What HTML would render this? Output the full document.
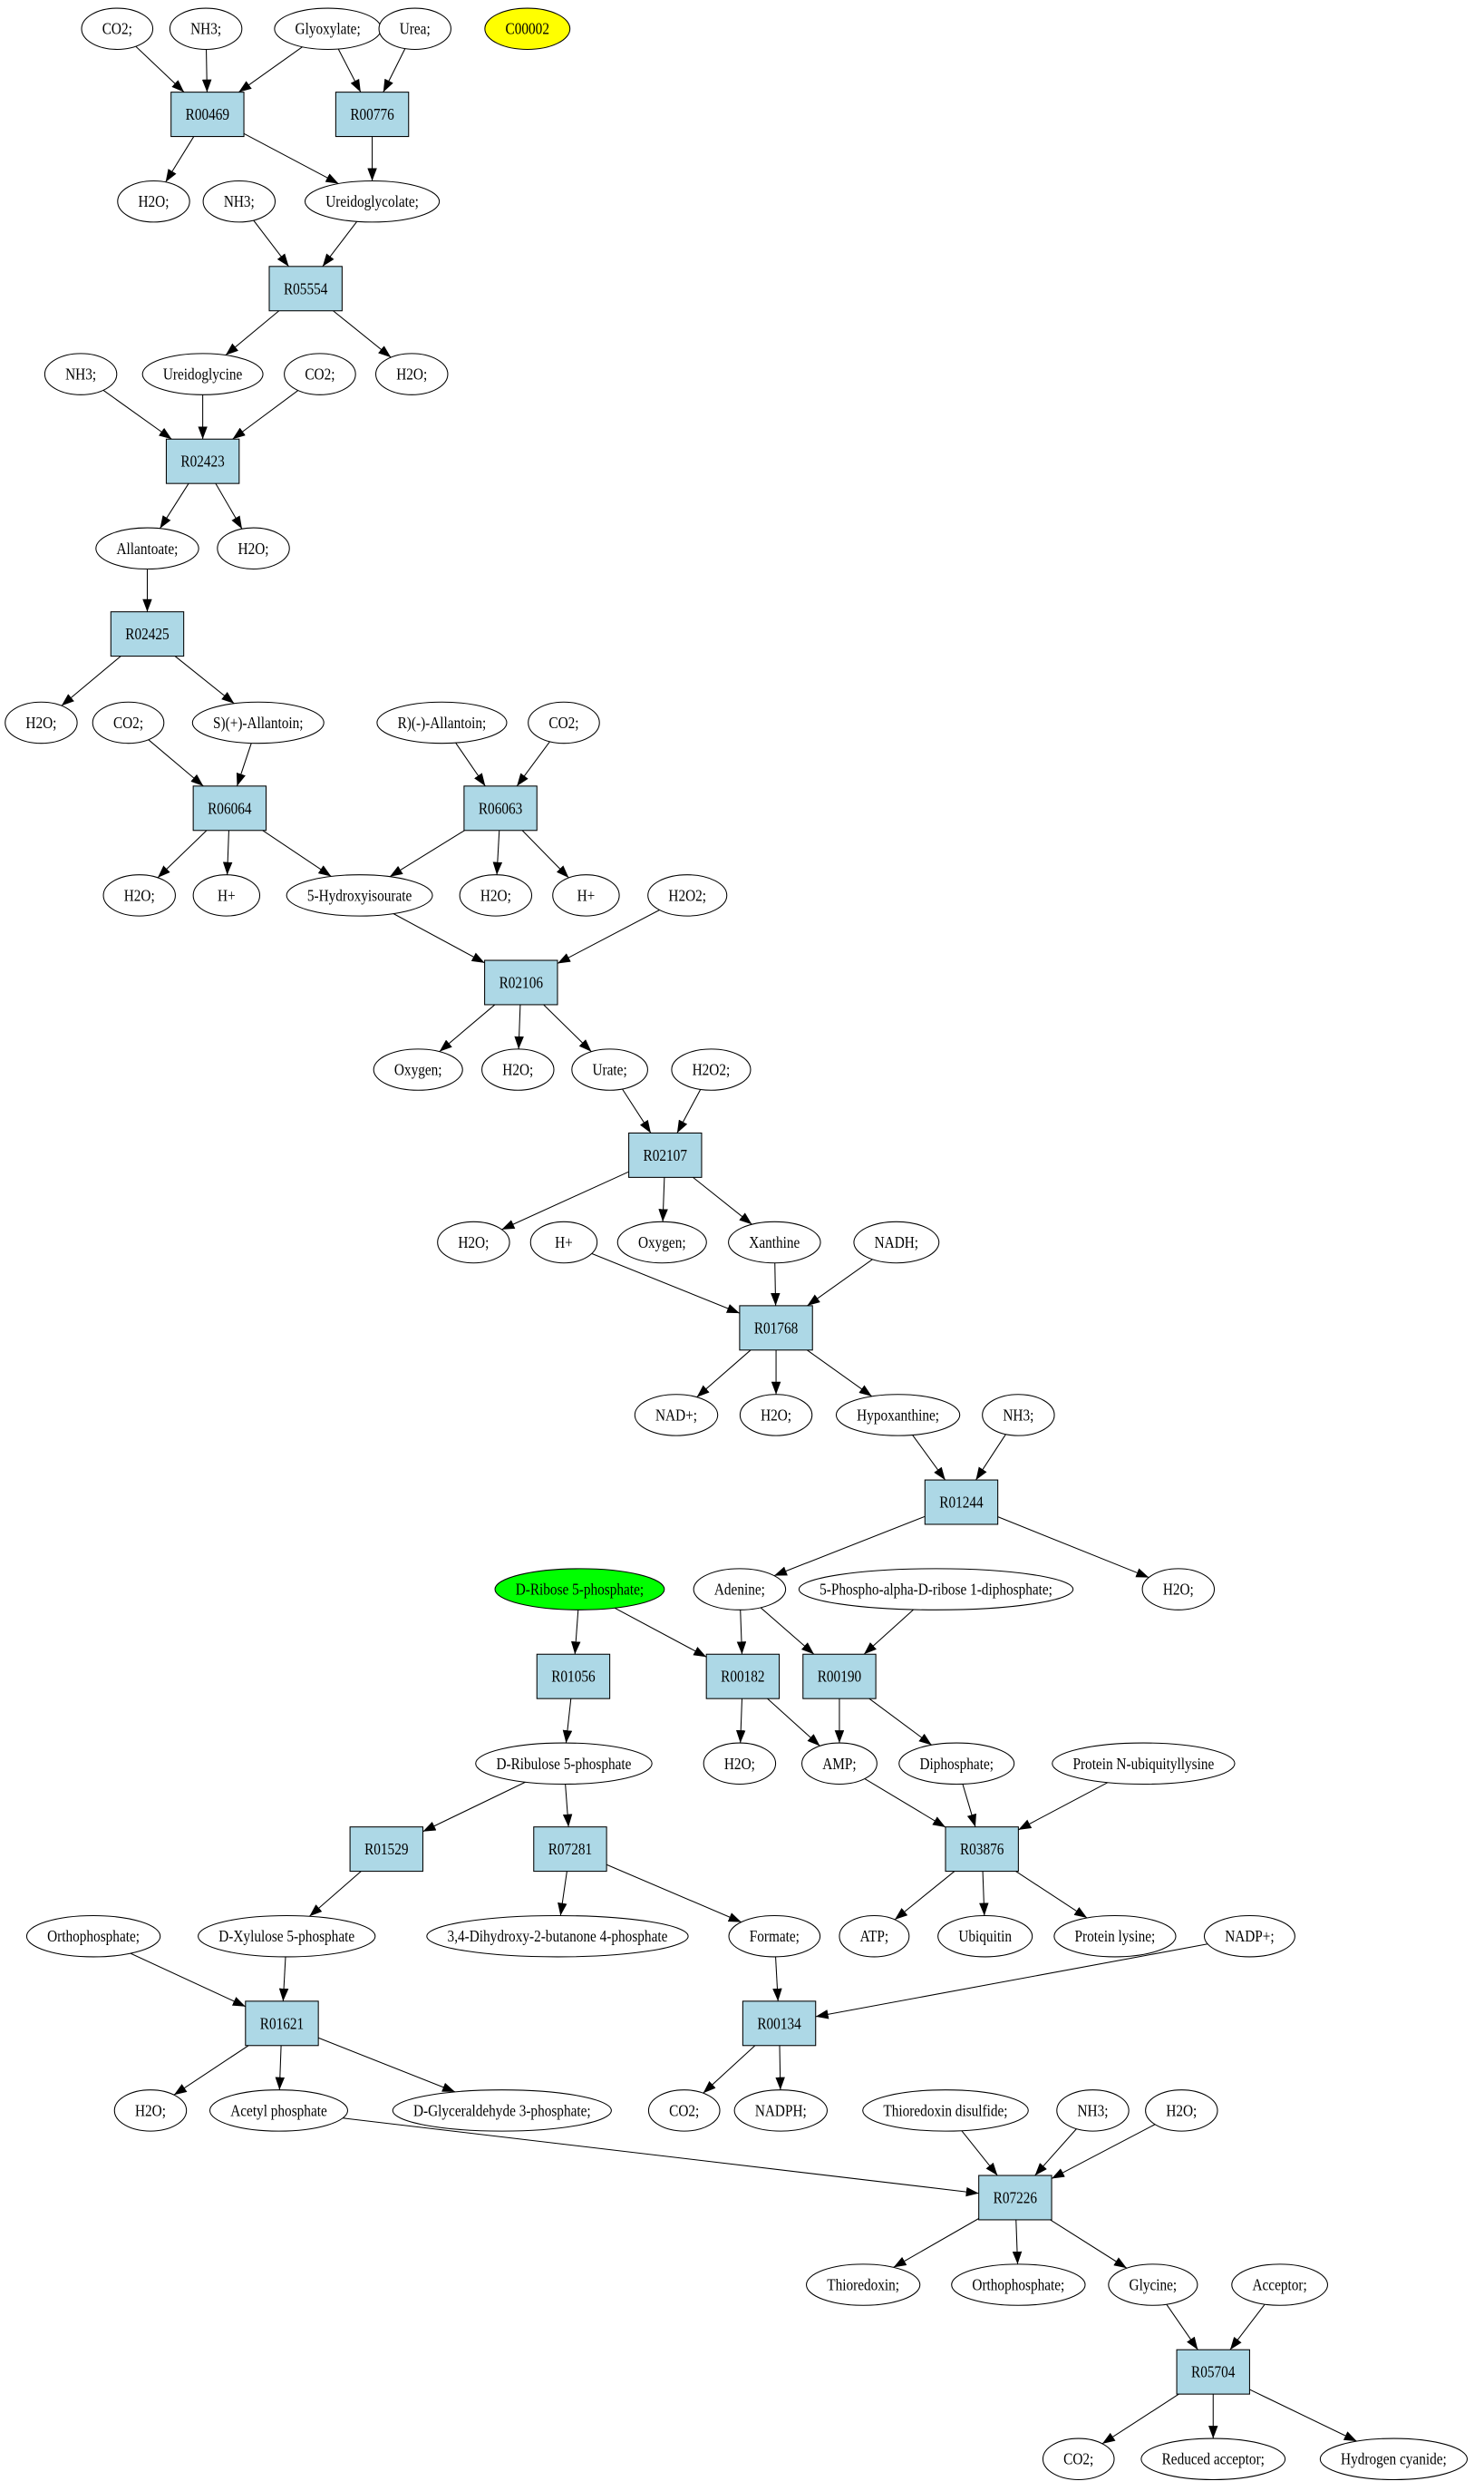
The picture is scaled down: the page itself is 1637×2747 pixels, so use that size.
<!DOCTYPE html>
<html><head><meta charset="utf-8"><style>
html,body{margin:0;padding:0;background:#fff}
svg{display:block}
text{font-family:"Liberation Serif",serif;font-size:10.3px;text-anchor:middle;dominant-baseline:central}
</style></head><body>
<svg id="g" width="1637" height="2747" viewBox="0 0 937 1572" xmlns="http://www.w3.org/2000/svg">
<defs><marker id="ah" markerWidth="8" markerHeight="6" refX="8" refY="3" orient="auto" markerUnits="userSpaceOnUse"><path d="M0,0 L8,3 L0,6 z" fill="#000"/></marker></defs>
<g id="edges"></g>
<g id="nodes" stroke="#000" stroke-width="0.6">
<g class="e" data-id="a1" data-x="74" data-y="18"><ellipse/><text>CO2;</text></g>
<g class="e" data-id="a2" data-x="130" data-y="18"><ellipse/><text>NH3;</text></g>
<g class="e" data-id="a3" data-x="207" data-y="18"><ellipse/><text>Glyoxylate;</text></g>
<g class="e" data-id="a4" data-x="262" data-y="18"><ellipse/><text>Urea;</text></g>
<g class="e" data-id="a5" data-x="333" data-y="18" data-fill="#ffff00"><ellipse/><text>C00002</text></g>
<g class="b" data-id="R00469" data-x="131" data-y="72"><rect/><text>R00469</text></g>
<g class="b" data-id="R00776" data-x="235" data-y="72"><rect/><text>R00776</text></g>
<g class="e" data-id="b1" data-x="97" data-y="127"><ellipse/><text>H2O;</text></g>
<g class="e" data-id="b2" data-x="151" data-y="127"><ellipse/><text>NH3;</text></g>
<g class="e" data-id="b3" data-x="235" data-y="127"><ellipse/><text>Ureidoglycolate;</text></g>
<g class="b" data-id="R05554" data-x="193" data-y="182"><rect/><text>R05554</text></g>
<g class="e" data-id="c1" data-x="51" data-y="236"><ellipse/><text>NH3;</text></g>
<g class="e" data-id="c2" data-x="128" data-y="236"><ellipse/><text>Ureidoglycine</text></g>
<g class="e" data-id="c3" data-x="202" data-y="236"><ellipse/><text>CO2;</text></g>
<g class="e" data-id="c4" data-x="260" data-y="236"><ellipse/><text>H2O;</text></g>
<g class="b" data-id="R02423" data-x="128" data-y="291"><rect/><text>R02423</text></g>
<g class="e" data-id="d1" data-x="93" data-y="346"><ellipse/><text>Allantoate;</text></g>
<g class="e" data-id="d2" data-x="160" data-y="346"><ellipse/><text>H2O;</text></g>
<g class="b" data-id="R02425" data-x="93" data-y="400"><rect/><text>R02425</text></g>
<g class="e" data-id="f1" data-x="26" data-y="456"><ellipse/><text>H2O;</text></g>
<g class="e" data-id="f2" data-x="81" data-y="456"><ellipse/><text>CO2;</text></g>
<g class="e" data-id="f3" data-x="163" data-y="456"><ellipse/><text>S)(+)-Allantoin;</text></g>
<g class="e" data-id="f4" data-x="279" data-y="456"><ellipse/><text>R)(-)-Allantoin;</text></g>
<g class="e" data-id="f5" data-x="356" data-y="456"><ellipse/><text>CO2;</text></g>
<g class="b" data-id="R06064" data-x="145" data-y="510"><rect/><text>R06064</text></g>
<g class="b" data-id="R06063" data-x="316" data-y="510"><rect/><text>R06063</text></g>
<g class="e" data-id="h1" data-x="88" data-y="565"><ellipse/><text>H2O;</text></g>
<g class="e" data-id="h2" data-x="143" data-y="565"><ellipse/><text>H+</text></g>
<g class="e" data-id="h3" data-x="227" data-y="565"><ellipse/><text>5-Hydroxyisourate</text></g>
<g class="e" data-id="h4" data-x="313" data-y="565"><ellipse/><text>H2O;</text></g>
<g class="e" data-id="h5" data-x="370" data-y="565"><ellipse/><text>H+</text></g>
<g class="e" data-id="h6" data-x="434" data-y="565"><ellipse/><text>H2O2;</text></g>
<g class="b" data-id="R02106" data-x="329" data-y="620"><rect/><text>R02106</text></g>
<g class="e" data-id="i1" data-x="264" data-y="675"><ellipse/><text>Oxygen;</text></g>
<g class="e" data-id="i2" data-x="327" data-y="675"><ellipse/><text>H2O;</text></g>
<g class="e" data-id="i3" data-x="385" data-y="675"><ellipse/><text>Urate;</text></g>
<g class="e" data-id="i4" data-x="449" data-y="675"><ellipse/><text>H2O2;</text></g>
<g class="b" data-id="R02107" data-x="420" data-y="729"><rect/><text>R02107</text></g>
<g class="e" data-id="j1" data-x="299" data-y="784"><ellipse/><text>H2O;</text></g>
<g class="e" data-id="j2" data-x="356" data-y="784"><ellipse/><text>H+</text></g>
<g class="e" data-id="j3" data-x="418" data-y="784"><ellipse/><text>Oxygen;</text></g>
<g class="e" data-id="j4" data-x="489" data-y="784"><ellipse/><text>Xanthine</text></g>
<g class="e" data-id="j5" data-x="566" data-y="784"><ellipse/><text>NADH;</text></g>
<g class="b" data-id="R01768" data-x="490" data-y="838"><rect/><text>R01768</text></g>
<g class="e" data-id="k1" data-x="427" data-y="893"><ellipse/><text>NAD+;</text></g>
<g class="e" data-id="k2" data-x="490" data-y="893"><ellipse/><text>H2O;</text></g>
<g class="e" data-id="k3" data-x="567" data-y="893"><ellipse/><text>Hypoxanthine;</text></g>
<g class="e" data-id="k4" data-x="643" data-y="893"><ellipse/><text>NH3;</text></g>
<g class="b" data-id="R01244" data-x="607" data-y="948"><rect/><text>R01244</text></g>
<g class="e" data-id="l1" data-x="366" data-y="1003" data-fill="#00ff00"><ellipse/><text>D-Ribose 5-phosphate;</text></g>
<g class="e" data-id="l2" data-x="467" data-y="1003"><ellipse/><text>Adenine;</text></g>
<g class="e" data-id="l3" data-x="591" data-y="1003"><ellipse/><text>5-Phospho-alpha-D-ribose 1-diphosphate;</text></g>
<g class="e" data-id="l4" data-x="744" data-y="1003"><ellipse/><text>H2O;</text></g>
<g class="b" data-id="R01056" data-x="362" data-y="1058"><rect/><text>R01056</text></g>
<g class="b" data-id="R00182" data-x="469" data-y="1058"><rect/><text>R00182</text></g>
<g class="b" data-id="R00190" data-x="530" data-y="1058"><rect/><text>R00190</text></g>
<g class="e" data-id="m1" data-x="356" data-y="1113"><ellipse/><text>D-Ribulose 5-phosphate</text></g>
<g class="e" data-id="m2" data-x="467" data-y="1113"><ellipse/><text>H2O;</text></g>
<g class="e" data-id="m3" data-x="530" data-y="1113"><ellipse/><text>AMP;</text></g>
<g class="e" data-id="m4" data-x="604" data-y="1113"><ellipse/><text>Diphosphate;</text></g>
<g class="e" data-id="m5" data-x="722" data-y="1113"><ellipse/><text>Protein N-ubiquityllysine</text></g>
<g class="b" data-id="R01529" data-x="244" data-y="1167"><rect/><text>R01529</text></g>
<g class="b" data-id="R07281" data-x="360" data-y="1167"><rect/><text>R07281</text></g>
<g class="b" data-id="R03876" data-x="620" data-y="1167"><rect/><text>R03876</text></g>
<g class="e" data-id="n1" data-x="59" data-y="1222"><ellipse/><text>Orthophosphate;</text></g>
<g class="e" data-id="n2" data-x="181" data-y="1222"><ellipse/><text>D-Xylulose 5-phosphate</text></g>
<g class="e" data-id="n3" data-x="352" data-y="1222"><ellipse/><text>3,4-Dihydroxy-2-butanone 4-phosphate</text></g>
<g class="e" data-id="n4" data-x="489" data-y="1222"><ellipse/><text>Formate;</text></g>
<g class="e" data-id="n5" data-x="552" data-y="1222"><ellipse/><text>ATP;</text></g>
<g class="e" data-id="n6" data-x="622" data-y="1222"><ellipse/><text>Ubiquitin</text></g>
<g class="e" data-id="n7" data-x="704" data-y="1222"><ellipse/><text>Protein lysine;</text></g>
<g class="e" data-id="n8" data-x="789" data-y="1222"><ellipse/><text>NADP+;</text></g>
<g class="b" data-id="R01621" data-x="178" data-y="1277"><rect/><text>R01621</text></g>
<g class="b" data-id="R00134" data-x="492" data-y="1277"><rect/><text>R00134</text></g>
<g class="e" data-id="o1" data-x="95" data-y="1332"><ellipse/><text>H2O;</text></g>
<g class="e" data-id="o2" data-x="176" data-y="1332"><ellipse/><text>Acetyl phosphate</text></g>
<g class="e" data-id="o3" data-x="317" data-y="1332"><ellipse/><text>D-Glyceraldehyde 3-phosphate;</text></g>
<g class="e" data-id="o4" data-x="432" data-y="1332"><ellipse/><text>CO2;</text></g>
<g class="e" data-id="o5" data-x="493" data-y="1332"><ellipse/><text>NADPH;</text></g>
<g class="e" data-id="o6" data-x="597" data-y="1332"><ellipse/><text>Thioredoxin disulfide;</text></g>
<g class="e" data-id="o7" data-x="690" data-y="1332"><ellipse/><text>NH3;</text></g>
<g class="e" data-id="o8" data-x="746" data-y="1332"><ellipse/><text>H2O;</text></g>
<g class="b" data-id="R07226" data-x="641" data-y="1387"><rect/><text>R07226</text></g>
<g class="e" data-id="p1" data-x="545" data-y="1442"><ellipse/><text>Thioredoxin;</text></g>
<g class="e" data-id="p2" data-x="643" data-y="1442"><ellipse/><text>Orthophosphate;</text></g>
<g class="e" data-id="p3" data-x="728" data-y="1442"><ellipse/><text>Glycine;</text></g>
<g class="e" data-id="p4" data-x="808" data-y="1442"><ellipse/><text>Acceptor;</text></g>
<g class="b" data-id="R05704" data-x="766" data-y="1497"><rect/><text>R05704</text></g>
<g class="e" data-id="q1" data-x="681" data-y="1552"><ellipse/><text>CO2;</text></g>
<g class="e" data-id="q2" data-x="766" data-y="1552"><ellipse/><text>Reduced acceptor;</text></g>
<g class="e" data-id="q3" data-x="880" data-y="1552"><ellipse/><text>Hydrogen cyanide;</text></g>
</g>
</svg>
<script>
var N={};var NS="http://www.w3.org/2000/svg";
document.querySelectorAll('#nodes > g').forEach(function(g){
 var x=+g.dataset.x,y=+g.dataset.y,t=g.querySelector('text');
 t.setAttribute('x',x);t.setAttribute('y',y);t.setAttribute('stroke','none');
 var w0=t.getComputedTextLength();var w=w0*0.85;
 t.setAttribute('textLength',w);t.setAttribute('lengthAdjust','spacingAndGlyphs');
 if(g.classList.contains('e')){
  var rx=Math.max(21,w/2+13);var ry=13;
  var e=g.querySelector('ellipse');e.setAttribute('cx',x);e.setAttribute('cy',y);e.setAttribute('rx',rx);e.setAttribute('ry',ry);
  e.setAttribute('fill',g.dataset.fill||'#fff');
  N[g.dataset.id]={x:x,y:y,t:'e',rx:rx,ry:ry};
 }else{
  var r=g.querySelector('rect');r.setAttribute('x',x-23);r.setAttribute('y',y-14);r.setAttribute('width',46);r.setAttribute('height',28);r.setAttribute('fill','#add8e6');
  N[g.dataset.id]={x:x,y:y,t:'b',hw:23,hh:14};
 }
});
function bd(n,dx,dy){
 if(n.t==='e'){var k=1/Math.sqrt(dx*dx/(n.rx*n.rx)+dy*dy/(n.ry*n.ry));return [n.x+dx*k,n.y+dy*k];}
 var k=Math.min(n.hw/Math.abs(dx||1e-9),n.hh/Math.abs(dy||1e-9));return [n.x+dx*k,n.y+dy*k];
}
var E="a1 R00469,a2 R00469,a3 R00469,a3 R00776,a4 R00776,R00469 b1,R00469 b3,R00776 b3,b2 R05554,b3 R05554,R05554 c2,R05554 c4,c1 R02423,c2 R02423,c3 R02423,R02423 d1,R02423 d2,d1 R02425,R02425 f1,R02425 f3,f2 R06064,f3 R06064,f4 R06063,f5 R06063,R06064 h1,R06064 h2,R06064 h3,R06063 h3,R06063 h4,R06063 h5,h3 R02106,h6 R02106,R02106 i1,R02106 i2,R02106 i3,i3 R02107,i4 R02107,R02107 j1,R02107 j3,R02107 j4,j2 R01768,j4 R01768,j5 R01768,R01768 k1,R01768 k2,R01768 k3,k3 R01244,k4 R01244,R01244 l2,R01244 l4,l1 R01056,l1 R00182,l2 R00182,l2 R00190,l3 R00190,R01056 m1,R00182 m2,R00182 m3,R00190 m3,R00190 m4,m1 R01529,m1 R07281,m3 R03876,m4 R03876,m5 R03876,R01529 n2,R07281 n3,R07281 n4,R03876 n5,R03876 n6,R03876 n7,n1 R01621,n2 R01621,n4 R00134,n8 R00134,R01621 o1,R01621 o2,R01621 o3,R00134 o4,R00134 o5,o2 R07226,o6 R07226,o7 R07226,o8 R07226,R07226 p1,R07226 p2,R07226 p3,p3 R05704,p4 R05704,R05704 q1,R05704 q2,R05704 q3";
var G=document.getElementById('edges');
E.split(',').forEach(function(s){var p=s.split(' '),a=N[p[0]],b=N[p[1]];var dx=b.x-a.x,dy=b.y-a.y;
 var s1=bd(a,dx,dy),s2=bd(b,-dx,-dy);
 var l=document.createElementNS(NS,'line');l.setAttribute('x1',s1[0]);l.setAttribute('y1',s1[1]);l.setAttribute('x2',s2[0]);l.setAttribute('y2',s2[1]);
 l.setAttribute('stroke','#000');l.setAttribute('stroke-width','0.6');l.setAttribute('marker-end','url(#ah)');G.appendChild(l);});
</script>
</body></html>
